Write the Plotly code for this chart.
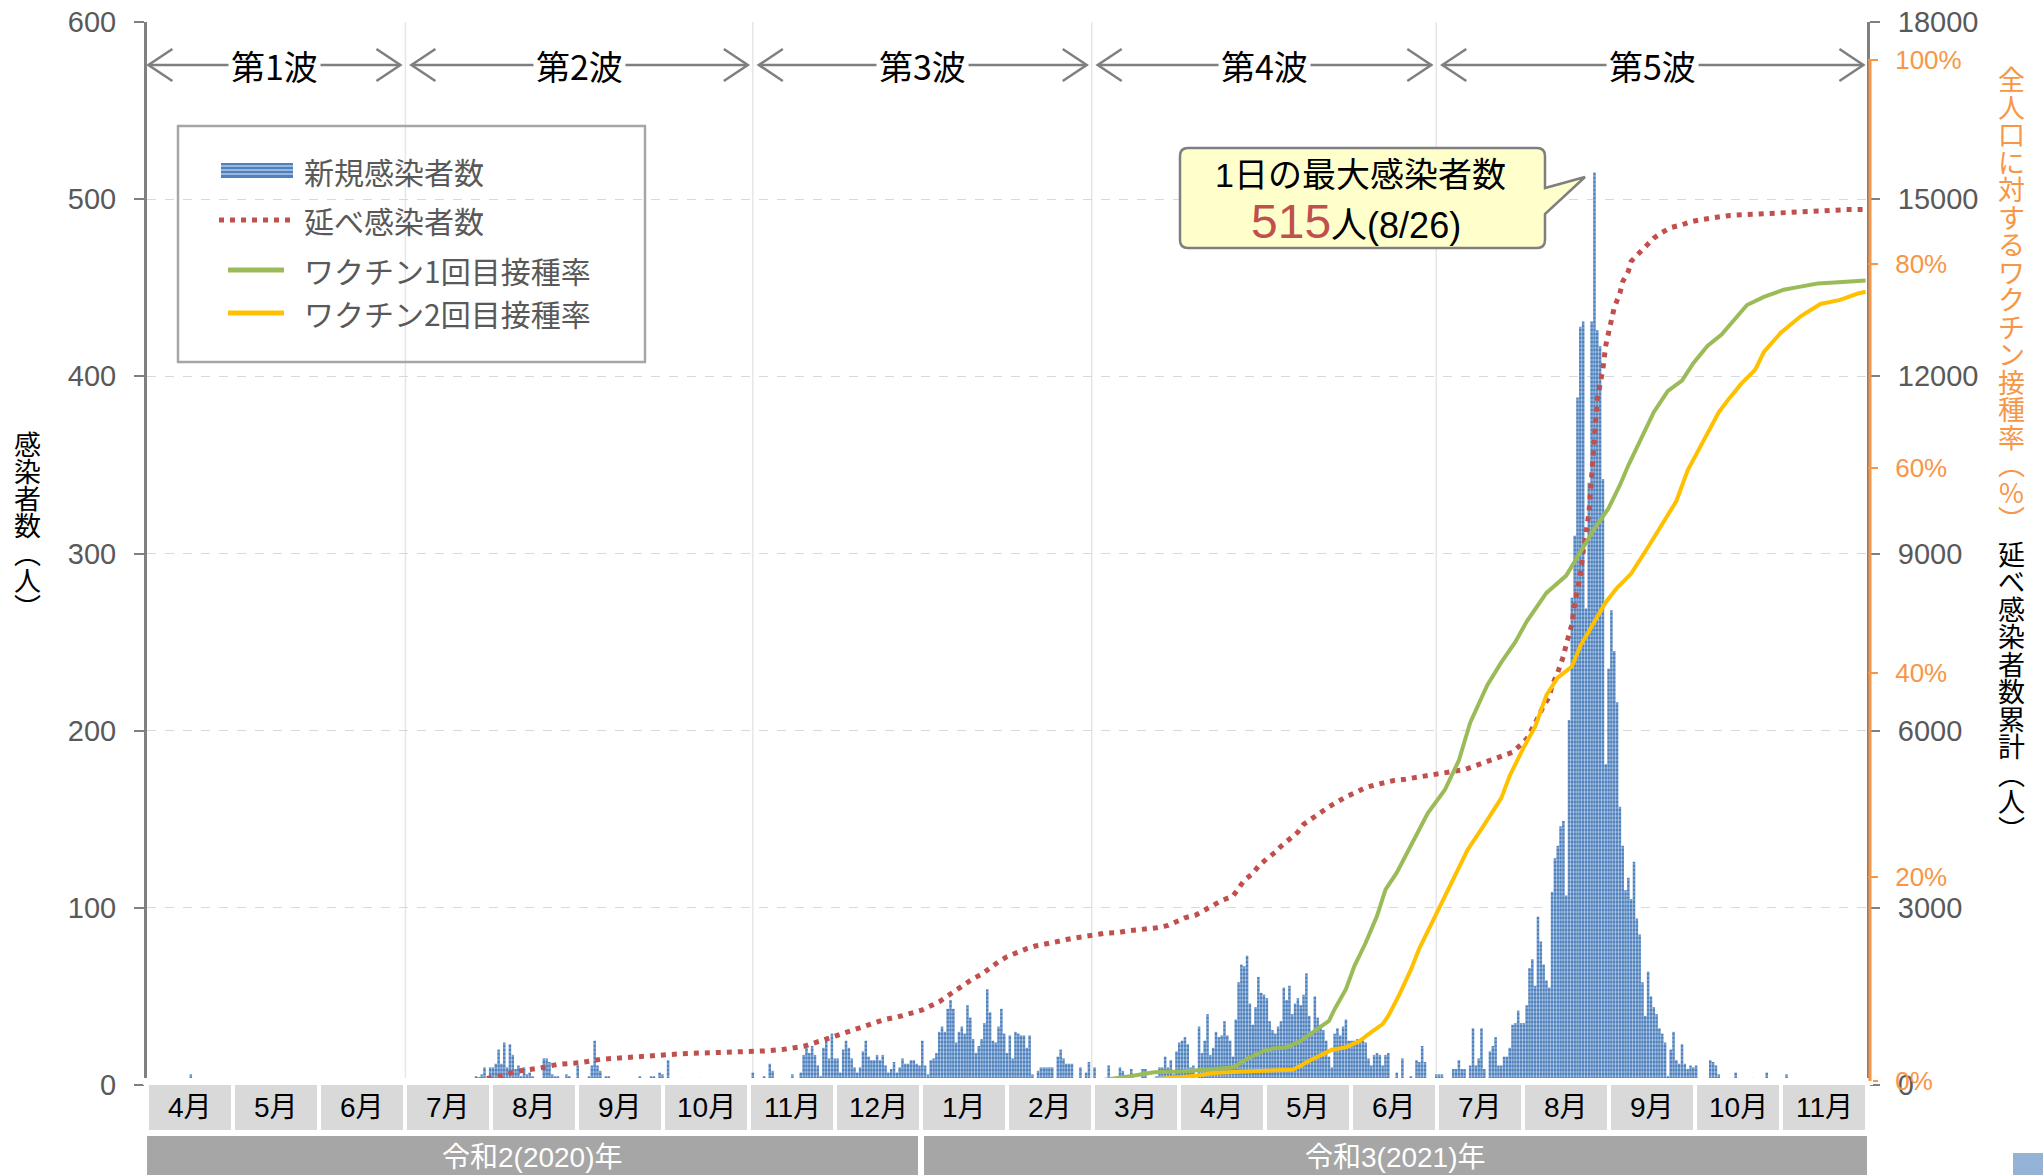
import plotly.graph_objects as go
import pandas as pd

# ---------------- data ----------------
new_2020_04 = [0,0,1,0,2, 1,0,3,1,2, 0,1,2,1,0, 6,3,1,2,0, 1,0,1,0,0, 1,0,0,0,0]
new_2020_05 = [1,0,0,1,0, 0,0,1,0,0, 0,0,0,0,0, 0,0,0,0,0, 0,0,0,0,0, 0,0,0,0,0, 0]
new_2020_06 = [0,0,0,0,0, 0,0,0,0,1, 0,0,0,0,0, 0,0,0,0,0, 0,1,0,0,0, 0,0,0,0,0]
new_2020_07 = [0,0,0,0,0, 0,1,0,2,1, 0,0,1,2,0, 1,3,1,2,0, 1,2,3,1,2, 5,2,6,10,3, 10]
new_2020_08 = [10,12,20,12,24, 10,23,17,9,11, 5,10,6,7,5, 4,1,2,15,15, 13,6,5,5,2, 1,6,5,2,1, 11]
new_2020_09 = [2,1,1,5,11, 25,11,8,2,5, 5,2,1,3,2, 1,2,3,1,2, 1,5,2,1,3, 5,5,2,7,6]
new_2020_10 = [1,14,2,1,2, 1,4,1,2,1, 0,2,4,1,0, 2,1,0,1,2, 0,1,0,1,2, 1,0,1,2,0, 1]
new_2020_11 = [7,1,2,1,5, 2,12,8,2,1, 3,4,2,1,6, 2,3,7,17,21, 18,22,17,11,5, 21,27,15,29,15]
new_2020_12 = [15,7,20,25,21, 15,10,7,10,19, 25,16,14,14,17, 14,17,11,7,9, 13,7,10,15,12, 12,14,14,12,11, 25]
new_2021_01 = [11,6,14,15,18, 30,33,30,43,48, 43,24,30,33,29, 45,38,26,18,22, 26,35,54,41,25, 24,33,43,29,18, 28]
new_2021_02 = [15,30,29,28,28, 21,28,6,3,8, 10,10,10,10,10, 3,16,20,15,12, 12,12,3,2,10, 3,7,13]
new_2021_03 = [3,10,3,2,2, 3,11,2,2,3, 10,8,2,3,9, 2,2,3,9,9, 3,2,3,5,10, 10,16,10,14,6, 19]
new_2021_04 = [24,25,27,23,10, 11,3,33,18,25, 40,17,21,30,27, 28,36,28,25,16, 37,58,68,67,73, 46,34,44,61,52]
new_2021_05 = [51,49,36,31,29, 33,36,55,48,56, 40,46,49,45,51, 63,39,29,50,38, 34,31,25,16,10, 29,32,28,33,37, 25]
new_2021_06 = [25,25,26,26,25, 24,15,11,17,18, 17,11,17,18,3, 2,7,2,15,2, 3,5,2,14,13, 22,13,2,1,2]
new_2021_07 = [6,6,6,2,1, 2,9,9,14,9, 9,3,11,32,11, 15,32,9,3,19, 22,27,11,11,16, 16,21,34,35,42, 35]
new_2021_08 = [35,45,66,71,56, 95,81,68,59,55, 109,128,135,146,149, 107,206,275,310,388, 428,431,269,340,431, 515,426,417,342,181, 235]
new_2021_09 = [268,245,216,157,135, 110,117,105,126,94, 85,58,39,64,50, 44,40,32,29,24, 5,20,30,14,12, 23,12,9,11,10]
new_2021_10 = [11,4,2,1,2, 14,13,11,6,2, 1,2,4,2,7, 4,1,2,1,2, 4,1,1,2,1, 7,1,2,3,1, 0]
new_2021_11 = [2,6,1,0,1, 0,2,0,1,0, 0,1,0,0,0, 1,0,0,0,0, 1,0,0,0,0, 0,0,0,0,0]

cumulative_points = [
    ("2020-07-26", 80), ("2020-07-30", 110), ("2020-08-03", 145), ("2020-08-10", 237),
    ("2020-08-17", 282), ("2020-08-24", 350), ("2020-09-01", 378), ("2020-09-08", 435),
    ("2020-09-15", 463), ("2020-09-22", 474), ("2020-09-29", 502), ("2020-10-07", 530),
    ("2020-10-14", 542), ("2020-10-21", 553), ("2020-10-29", 555), ("2020-11-05", 576),
    ("2020-11-12", 604), ("2020-11-19", 655), ("2020-11-26", 762), ("2020-12-03", 880),
    ("2020-12-10", 982), ("2020-12-17", 1100), ("2020-12-24", 1174), ("2020-12-31", 1270),
    ("2021-01-03", 1340), ("2021-01-06", 1407), ("2021-01-09", 1508), ("2021-01-12", 1610),
    ("2021-01-15", 1705), ("2021-01-18", 1801), ("2021-01-21", 1874), ("2021-01-24", 1987),
    ("2021-01-27", 2088), ("2021-01-30", 2173), ("2021-02-02", 2240), ("2021-02-06", 2308),
    ("2021-02-09", 2353), ("2021-02-13", 2381), ("2021-02-16", 2420), ("2021-02-20", 2465),
    ("2021-02-23", 2494), ("2021-02-27", 2522), ("2021-03-03", 2550), ("2021-03-06", 2572),
    ("2021-03-10", 2578), ("2021-03-13", 2606), ("2021-03-17", 2623), ("2021-03-21", 2645),
    ("2021-03-24", 2662), ("2021-03-28", 2702), ("2021-03-31", 2758), ("2021-04-03", 2831),
    ("2021-04-07", 2882), ("2021-04-10", 2966), ("2021-04-13", 3039), ("2021-04-16", 3124),
    ("2021-04-20", 3197), ("2021-04-22", 3327), ("2021-04-24", 3467), ("2021-04-27", 3580),
    ("2021-04-29", 3704), ("2021-05-02", 3833), ("2021-05-05", 3940), ("2021-05-07", 4041),
    ("2021-05-10", 4165), ("2021-05-13", 4283), ("2021-05-15", 4413), ("2021-05-18", 4514),
    ("2021-05-21", 4632), ("2021-05-24", 4711), ("2021-05-27", 4795), ("2021-05-30", 4880),
    ("2021-06-03", 4964), ("2021-06-06", 5038), ("2021-06-09", 5077), ("2021-06-13", 5128),
    ("2021-06-16", 5156), ("2021-06-20", 5178), ("2021-06-24", 5206), ("2021-06-27", 5240),
    ("2021-07-01", 5263), ("2021-07-04", 5280), ("2021-07-08", 5300), ("2021-07-11", 5341),
    ("2021-07-14", 5390), ("2021-07-18", 5459), ("2021-07-21", 5518), ("2021-07-24", 5567),
    ("2021-07-28", 5636), ("2021-07-31", 5764), ("2021-08-02", 5862), ("2021-08-05", 6128),
    ("2021-08-06", 6240), ("2021-08-08", 6423), ("2021-08-10", 6570), ("2021-08-11", 6767),
    ("2021-08-13", 6984), ("2021-08-14", 7111), ("2021-08-15", 7259), ("2021-08-16", 7456),
    ("2021-08-18", 7800), ("2021-08-19", 8144), ("2021-08-21", 8636), ("2021-08-22", 9030),
    ("2021-08-24", 9669), ("2021-08-25", 10308), ("2021-08-26", 10997), ("2021-08-27", 11607),
    ("2021-08-29", 12128), ("2021-08-30", 12521), ("2021-08-31", 12738), ("2021-09-01", 12964),
    ("2021-09-02", 13161), ("2021-09-04", 13407), ("2021-09-05", 13603), ("2021-09-07", 13780),
    ("2021-09-08", 13948), ("2021-09-11", 14095), ("2021-09-13", 14193), ("2021-09-16", 14341),
    ("2021-09-19", 14439), ("2021-09-22", 14518), ("2021-09-26", 14567), ("2021-09-29", 14616),
    ("2021-10-03", 14656), ("2021-10-06", 14685), ("2021-10-10", 14705), ("2021-10-13", 14725),
    ("2021-10-17", 14734), ("2021-10-21", 14754), ("2021-10-25", 14764), ("2021-10-28", 14774),
    ("2021-11-01", 14784), ("2021-11-05", 14793), ("2021-11-08", 14803), ("2021-11-12", 14813),
    ("2021-11-18", 14815), ("2021-11-23", 14823), ("2021-11-27", 14823), ("2021-11-30", 14825),
]

vaccine1_points = [
    ("2021-03-01", 0.0), ("2021-03-05", 0.1), ("2021-03-14", 0.45), ("2021-03-23", 0.85),
    ("2021-04-02", 0.94), ("2021-04-13", 1.17), ("2021-04-20", 1.33), ("2021-04-25", 2.15),
    ("2021-05-01", 2.96), ("2021-05-04", 3.19), ("2021-05-09", 3.29), ("2021-05-14", 3.94),
    ("2021-05-20", 5.08), ("2021-05-24", 5.89), ("2021-05-26", 7.03), ("2021-05-30", 8.99),
    ("2021-06-02", 11.26), ("2021-06-06", 13.54), ("2021-06-10", 16.15), ("2021-06-13", 18.75),
    ("2021-06-17", 20.4), ("2021-06-22", 23.1), ("2021-06-28", 26.25), ("2021-07-04", 28.5),
    ("2021-07-09", 31.4), ("2021-07-13", 35.1), ("2021-07-19", 38.75), ("2021-07-24", 41.0),
    ("2021-07-29", 43.0), ("2021-08-02", 45.0), ("2021-08-09", 47.8), ("2021-08-16", 49.5),
    ("2021-08-21", 51.8), ("2021-08-26", 54.1), ("2021-08-31", 56.1), ("2021-09-04", 58.35),
    ("2021-09-07", 60.3), ("2021-09-11", 62.6), ("2021-09-16", 65.5), ("2021-09-21", 67.6),
    ("2021-09-26", 68.6), ("2021-09-30", 70.3), ("2021-10-05", 72.0), ("2021-10-10", 73.1),
    ("2021-10-14", 74.4), ("2021-10-19", 76.0), ("2021-10-25", 76.8), ("2021-11-01", 77.5),
    ("2021-11-07", 77.8), ("2021-11-13", 78.1), ("2021-11-19", 78.2), ("2021-11-25", 78.3),
    ("2021-11-30", 78.4),
]

vaccine2_points = [
    ("2021-03-20", 0.0), ("2021-03-25", 0.2), ("2021-04-07", 0.52), ("2021-04-13", 0.78),
    ("2021-04-22", 0.91), ("2021-05-01", 1.01), ("2021-05-11", 1.1), ("2021-05-14", 1.5),
    ("2021-05-17", 1.98), ("2021-05-22", 2.63), ("2021-05-25", 3.06), ("2021-05-30", 3.29),
    ("2021-06-04", 3.94), ("2021-06-07", 4.59), ("2021-06-12", 5.57), ("2021-06-14", 6.38),
    ("2021-06-18", 8.5), ("2021-06-22", 10.9), ("2021-06-25", 13.0), ("2021-06-30", 15.8),
    ("2021-07-06", 19.3), ("2021-07-12", 22.6), ("2021-07-18", 25.1), ("2021-07-24", 27.7),
    ("2021-07-27", 29.9), ("2021-08-01", 32.7), ("2021-08-05", 34.7), ("2021-08-09", 37.8),
    ("2021-08-13", 39.5), ("2021-08-18", 40.6), ("2021-08-21", 42.6), ("2021-08-26", 44.9),
    ("2021-08-30", 46.9), ("2021-09-03", 48.3), ("2021-09-08", 49.7), ("2021-09-14", 52.3),
    ("2021-09-20", 55.1), ("2021-09-24", 56.8), ("2021-09-28", 59.8), ("2021-10-04", 62.9),
    ("2021-10-09", 65.5), ("2021-10-12", 66.6), ("2021-10-17", 68.3), ("2021-10-22", 69.7),
    ("2021-10-25", 71.4), ("2021-10-31", 73.3), ("2021-11-07", 74.9), ("2021-11-14", 76.1),
    ("2021-11-21", 76.5), ("2021-11-27", 77.1), ("2021-11-30", 77.3),
]

month_labels = ["4月", "5月", "6月", "7月", "8月", "9月", "10月", "11月", "12月",
                "1月", "2月", "3月", "4月", "5月", "6月", "7月", "8月", "9月", "10月", "11月"]
year_labels = ["令和2(2020)年", "令和3(2021)年"]
year_month_counts = [9, 11]
wave_labels = ["第1波", "第2波", "第3波", "第4波", "第5波"]
wave_start = ["2020-04-01", "2020-07-01", "2020-11-01", "2021-03-01", "2021-07-01"]
wave_end = ["2020-07-01", "2020-11-01", "2021-03-01", "2021-07-01", "2021-12-01"]
legend_labels = ["新規感染者数", "延べ感染者数", "ワクチン1回目接種率", "ワクチン2回目接種率"]
left_ticks = [0, 100, 200, 300, 400, 500, 600]
right_ticks = [0, 3000, 6000, 9000, 12000, 15000, 18000]
rate_ticks = [0, 20, 40, 60, 80, 100]
left_title = ["感", "染", "者", "数", "︵", "人", "︶"]
rate_title = ["全", "人", "口", "に", "対", "す", "る", "ワ", "ク", "チ", "ン", "接", "種", "率", "︵", "%", "︶"]
cum_title = ["延", "べ", "感", "染", "者", "数", "累", "計", "︵", "人", "︶"]

# ---------------- assemble ----------------
daily = (new_2020_04 + new_2020_05 + new_2020_06 + new_2020_07 + new_2020_08 + new_2020_09 +
         new_2020_10 + new_2020_11 + new_2020_12 + new_2021_01 + new_2021_02 + new_2021_03 +
         new_2021_04 + new_2021_05 + new_2021_06 + new_2021_07 + new_2021_08 + new_2021_09 +
         new_2021_10 + new_2021_11)
days = pd.date_range("2020-04-01", periods=len(daily), freq="D")

cum_x = [d for d, _ in cumulative_points]
cum_y = [v for _, v in cumulative_points]
v1_x = [d for d, _ in vaccine1_points]
v1_y = [v for _, v in vaccine1_points]
v2_x = [d for d, _ in vaccine2_points]
v2_y = [v for _, v in vaccine2_points]

W, H = 2043, 1175
PL, PR, PT, PB = 147, 1867, 22, 1085
X0 = pd.Timestamp("2020-03-31 12:00")
X1 = pd.Timestamp("2021-11-30 12:00")
JP = "Noto Sans CJK JP"
LAT = "Liberation Sans, Noto Sans CJK JP"
NARROW = "Liberation Sans Narrow, Liberation Sans, Noto Sans CJK JP"


def fx(px):
    return (px - PL) / (PR - PL)


def fy(py):
    return (PB - py) / (PB - PT)


def dpx(d):
    return PL + (pd.Timestamp(d) - X0) / (X1 - X0) * (PR - PL)


def P(x, y):
    return f"{fx(x):.5f},{fy(y):.5f}"


shapes = []
ann = []

# vertical light grid lines at wave boundaries
for d in wave_start[1:]:
    shapes.append(dict(type="line", xref="x", yref="y", x0=d, x1=d, y0=0, y1=600,
                       line=dict(color="#e6e6e6", width=1.5), layer="below"))

fig = go.Figure()
fig.add_trace(go.Bar(
    x=days, y=daily, name=legend_labels[0], yaxis="y",
    marker=dict(color="#4f81bd", line=dict(width=0),
                pattern=dict(shape="-", fillmode="overlay", fgcolor="#b3cae9", size=4, solidity=0.4)),
))
fig.add_trace(go.Scatter(
    x=cum_x, y=cum_y, name=legend_labels[1], yaxis="y2", mode="lines",
    line=dict(color="#c0504d", width=5, dash="5px,6px"),
))
fig.add_trace(go.Scatter(
    x=v1_x, y=v1_y, name=legend_labels[2], yaxis="y3", mode="lines",
    line=dict(color="#9bbb59", width=4),
))
fig.add_trace(go.Scatter(
    x=v2_x, y=v2_y, name=legend_labels[3], yaxis="y3", mode="lines",
    line=dict(color="#ffc000", width=4),
))

# white strip that hides the bar bases (as in the reference)
shapes.append(dict(type="rect", xref="paper", yref="paper", x0=fx(143), x1=fx(1873), y0=fy(1085), y1=fy(1078),
                   fillcolor="white", line=dict(width=0), layer="above"))

# orange axis line (0%-100%)
shapes.append(dict(type="line", xref="paper", yref="y3", x0=fx(1870), x1=fx(1870), y0=0, y1=100,
                   line=dict(color="#f79646", width=3), layer="above"))

# month boxes
for i, lab in enumerate(month_labels):
    x0 = 149 + 86 * i
    x1 = x0 + 82
    shapes.append(dict(type="rect", xref="paper", yref="paper", x0=fx(x0), x1=fx(x1), y0=fy(1130), y1=fy(1085),
                       fillcolor="#d9d9d9", line=dict(width=0), layer="above"))
    ann.append(dict(x=fx((x0 + x1) / 2), y=fy(1107), xref="paper", yref="paper", text=lab, showarrow=False,
                    font=dict(family=NARROW, size=28, color="black"), xanchor="center", yanchor="middle"))

# year bars
start = 0
for lab, n in zip(year_labels, year_month_counts):
    x0 = PL + 86 * start + (0 if start == 0 else 3)
    x1 = PL + 86 * (start + n) - (3 if start == 0 else 0)
    shapes.append(dict(type="rect", xref="paper", yref="paper", x0=fx(x0), x1=fx(x1), y0=fy(1185), y1=fy(1136),
                       fillcolor="#a6a6a6", line=dict(width=0), layer="above"))
    ann.append(dict(x=fx((x0 + x1) / 2), y=fy(1157), xref="paper", yref="paper", text=lab, showarrow=False,
                    font=dict(family=NARROW, size=28, color="white"), xanchor="center", yanchor="middle"))
    start += n

# small blue mark bottom-right
shapes.append(dict(type="rect", xref="paper", yref="paper", x0=fx(2013), x1=fx(2050), y0=fy(1185), y1=fy(1153),
                   fillcolor="#95b3d7", line=dict(width=0), layer="above"))

# wave arrows
AY = 65
for i, lab in enumerate(wave_labels):
    xs = dpx(wave_start[i]) + (0 if i == 0 else 6)
    xe = dpx(wave_end[i]) - 5
    shapes.append(dict(type="line", xref="paper", yref="paper", x0=fx(xs), x1=fx(xe), y0=fy(AY), y1=fy(AY),
                       line=dict(color="#7f7f7f", width=2.5), layer="above"))
    path = (f"M{P(xs + 24, AY - 16)} L{P(xs, AY)} L{P(xs + 24, AY + 16)} "
            f"M{P(xe - 24, AY - 16)} L{P(xe, AY)} L{P(xe - 24, AY + 16)}")
    shapes.append(dict(type="path", xref="paper", yref="paper", path=path,
                       line=dict(color="#7f7f7f", width=2.5), layer="above"))
    ann.append(dict(x=fx((xs + xe) / 2), y=fy(AY), xref="paper", yref="paper", text=lab, showarrow=False,
                    font=dict(family=JP, size=34, color="black"), bgcolor="white", borderpad=2,
                    xanchor="center", yanchor="middle"))

# legend
shapes.append(dict(type="rect", xref="paper", yref="paper", x0=fx(178), x1=fx(645), y0=fy(362), y1=fy(126),
                   line=dict(color="#a6a6a6", width=2.5), fillcolor="rgba(0,0,0,0)", layer="above"))
shapes.append(dict(type="rect", xref="paper", yref="paper", x0=fx(221), x1=fx(293), y0=fy(178), y1=fy(163),
                   fillcolor="#4f81bd", line=dict(width=0), layer="above"))
for yy in (166, 170, 174):
    shapes.append(dict(type="line", xref="paper", yref="paper", x0=fx(221), x1=fx(293), y0=fy(yy), y1=fy(yy),
                       line=dict(color="#b3cae9", width=1.5), layer="above"))
shapes.append(dict(type="line", xref="paper", yref="paper", x0=fx(219), x1=fx(293), y0=fy(220), y1=fy(220),
                   line=dict(color="#c0504d", width=5, dash="5px,6px"), layer="above"))
shapes.append(dict(type="line", xref="paper", yref="paper", x0=fx(228), x1=fx(284), y0=fy(270), y1=fy(270),
                   line=dict(color="#9bbb59", width=5), layer="above"))
shapes.append(dict(type="line", xref="paper", yref="paper", x0=fx(228), x1=fx(284), y0=fy(313), y1=fy(313),
                   line=dict(color="#ffc000", width=5), layer="above"))
for lab, yy in zip(legend_labels, (171, 220, 270, 313)):
    ann.append(dict(x=fx(302), y=fy(yy), xref="paper", yref="paper", text=lab, showarrow=False,
                    font=dict(family=JP, size=30, color="#595959"), xanchor="left", yanchor="middle"))

# callout
bl, br, bt, bb, r = 1180, 1545, 148, 248, 8
callout = (f"M{P(bl + r, bt)} L{P(br - r, bt)} Q{P(br, bt)} {P(br, bt + r)} "
           f"L{P(br, 188)} L{P(1585, 177)} L{P(br, 214)} "
           f"L{P(br, bb - r)} Q{P(br, bb)} {P(br - r, bb)} L{P(bl + r, bb)} Q{P(bl, bb)} {P(bl, bb - r)} "
           f"L{P(bl, bt + r)} Q{P(bl, bt)} {P(bl + r, bt)} Z")
shapes.append(dict(type="path", xref="paper", yref="paper", path=callout, fillcolor="#ffffcc",
                   line=dict(color="#7f7f7f", width=2.5), layer="above"))
ann.append(dict(x=fx(1360), y=fy(175), xref="paper", yref="paper", text="1日の最大感染者数", showarrow=False,
                font=dict(family=LAT, size=34, color="black"), xanchor="center", yanchor="middle"))
ann.append(dict(x=fx(1356), y=fy(221), xref="paper", yref="paper",
                text='<span style="color:#c0504d;font-size:48px">515</span>人(8/26)', showarrow=False,
                font=dict(family=LAT, size=36, color="black"), xanchor="center", yanchor="middle"))


# vertical titles: one text per title, line pitch set by base size, glyph size by span
def vtitle(chars, xc, ytop, ybot, glyph, color):
    pitch = (ybot - ytop) / len(chars)
    base = pitch / 1.3
    text = "<br>".join(f'<span style="font-size:{glyph}px">{c}</span>' for c in chars)
    ann.append(dict(x=fx(xc), y=fy((ytop + ybot) / 2), xref="paper", yref="paper", text=text,
                    showarrow=False, font=dict(family=JP, size=base, color=color),
                    xanchor="center", yanchor="middle"))


vtitle(left_title, 27, 430, 620, 27, "black")
vtitle(rate_title, 2011, 64, 532, 27, "#f79646")
vtitle(cum_title, 2011, 540, 842, 27, "black")

tickfont = dict(family="Liberation Sans", size=29, color="#595959")
fig.update_layout(
    width=W, height=H,
    margin=dict(l=PL, r=W - PR, t=PT, b=H - PB, autoexpand=False),
    plot_bgcolor="white", paper_bgcolor="white",
    showlegend=False, bargap=0.1,
    xaxis=dict(type="date", range=[X0, X1], showticklabels=False, showgrid=False, zeroline=False,
               showline=False, ticks="", automargin=False),
    yaxis=dict(range=[0, 600], tickvals=left_ticks, ticktext=[str(t) for t in left_ticks],
               showgrid=True, gridcolor="#d9d9d9", griddash="dash",
               gridwidth=1, zeroline=False, showline=True, linecolor="#808080", linewidth=3,
               ticks="outside", ticklen=10, tickwidth=2, tickcolor="#808080", tickfont=tickfont,
               ticklabelstandoff=12, automargin=False),
    yaxis2=dict(range=[0, 18000], tickvals=right_ticks, ticktext=[str(t) for t in right_ticks],
                overlaying="y", side="right", anchor="x",
                showgrid=False, zeroline=False, showline=True, linecolor="#808080", linewidth=3,
                ticks="outside", ticklen=10, tickwidth=2, tickcolor="#808080", tickfont=tickfont,
                ticklabelstandoff=12, automargin=False),
    yaxis3=dict(range=[-0.392, 103.72], tickvals=rate_ticks, ticktext=[f"{t}%" for t in rate_ticks],
                overlaying="y", side="right", anchor="free", position=1.0,
                showgrid=False, zeroline=False, showline=False,
                ticks="outside", ticklen=10, tickwidth=2, tickcolor="#f79646",
                tickfont=dict(family="Liberation Sans", size=26, color="#f79646"),
                ticklabelstandoff=12, automargin=False),
    shapes=shapes,
    annotations=ann,
)

fig.write_html("out.html", config={"displayModeBar": False},
               post_script="document.body.style.margin='0';")
